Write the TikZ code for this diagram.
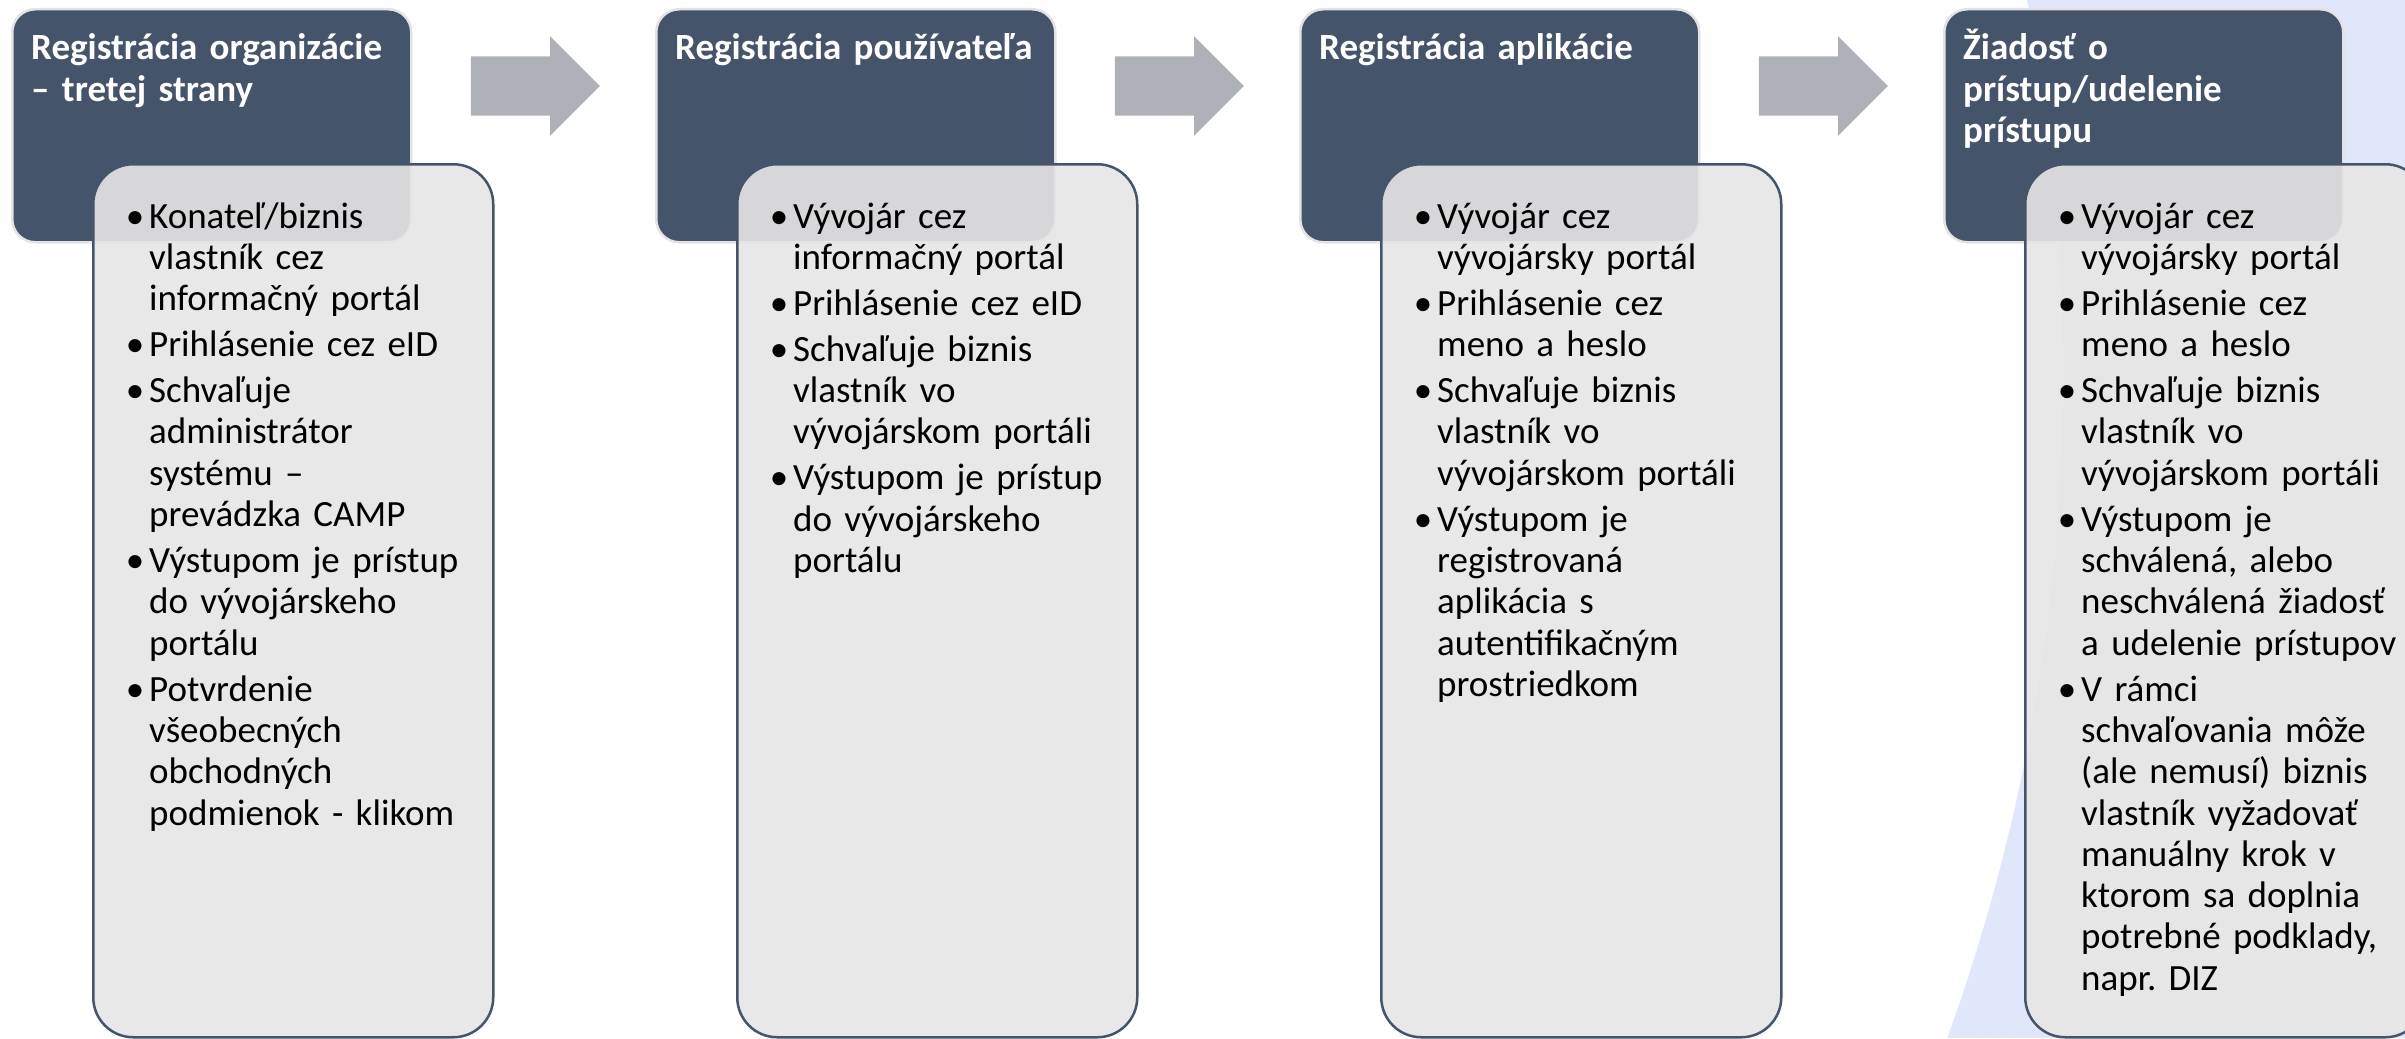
\documentclass[tikz,border=0pt]{standalone}
\usepackage{fontspec}
\setmainfont{Carlito}
\usetikzlibrary{shapes.arrows,calc}
\definecolor{hdrcol}{HTML}{44546A}
\definecolor{bodycol}{HTML}{E7E6E6}
\definecolor{arrcol}{HTML}{AEB1B8}
\definecolor{bgblue}{HTML}{E0E7FA}
\definecolor{rimcol}{HTML}{E3E3E3}
\newcommand\bitem[1]{\leavevmode\llap{•\hspace{5pt}}#1\par}
\newcommand\bodysetup{\frenchspacing\leftskip=17pt\parskip=4.7pt\lineskiplimit=-100pt\relax}
\begin{document}
\begin{tikzpicture}[x=1pt,y=-1pt,
  hdrbox/.style={draw=rimcol, line width=2.5pt, fill=hdrcol, rounded corners=23pt,
    minimum width=399pt, minimum height=233pt, anchor=north west, inner sep=0pt},
  hdrtext/.style={anchor=base west, inner sep=0pt, text width=370pt, align=left,
    text=white, font=\fontsize{37}{41.3}\selectfont\bfseries},
  bodybox/.style={draw=hdrcol, line width=2.5pt, fill=bodycol, fill opacity=0.9,
    rounded corners=40pt, minimum width=400pt, minimum height=873pt,
    anchor=north west, inner sep=0pt},
  bodytext/.style={anchor=base west, inner sep=0pt, text width=380pt, align=left,
    text=black, font=\fontsize{37}{41.3}\selectfont},
  flowarrow/.style={single arrow, fill=arrcol, draw=none, minimum height=129pt,
    text height=29.5pt, text depth=29.5pt, text width=0pt,
    single arrow head extend=20pt, inner sep=0pt, single arrow tip angle=90}
]
\useasboundingbox (0,0) rectangle (2405,1038);
% background
\fill[bgblue] (0,0) rectangle (2405,1038);
\fill[white] (118,375) circle[radius=1945pt];

% arrows
\node[flowarrow] (a1) at (520.5,86) {};
\node[flowarrow] (a2) at (1164.5,86) {};
\node[flowarrow] (a3) at (1808.5,86) {};

% headers
\node[hdrbox] (h1) at (11,8) {};
\node[hdrbox] (h2) at (655,8) {};
\node[hdrbox] (h3) at (1299,8) {};
\node[hdrbox] (h4) at (1943,8) {};

\node[hdrtext] (ht1) at (31,60) {Registrácia organizácie\newline – tretej strany};
\node[hdrtext] (ht2) at (675,60) {Registrácia používateľa};
\node[hdrtext] (ht3) at (1319,60) {Registrácia aplikácie};
\node[hdrtext] (ht4) at (1963,60) {Žiadosť o\newline prístup/udelenie\newline prístupu};

% bodies
\node[bodybox] (b1) at (92,163) {};
\node[bodybox] (b2) at (736,163) {};
\node[bodybox] (b3) at (1380,163) {};
\node[bodybox] (b4) at (2024,163) {};

\node[bodytext] (bt1) at (132,228) {\bodysetup
\bitem{Konateľ/biznis\newline vlastník cez\newline informačný portál}
\bitem{Prihlásenie cez eID}
\bitem{Schvaľuje\newline administrátor\newline systému –\newline prevádzka CAMP}
\bitem{Výstupom je prístup\newline do vývojárskeho\newline portálu}
\bitem{Potvrdenie\newline všeobecných\newline obchodných\newline podmienok - klikom}};

\node[bodytext] (bt2) at (776,228) {\bodysetup
\bitem{Vývojár cez\newline informačný portál}
\bitem{Prihlásenie cez eID}
\bitem{Schvaľuje biznis\newline vlastník vo\newline vývojárskom portáli}
\bitem{Výstupom je prístup\newline do vývojárskeho\newline portálu}};

\node[bodytext] (bt3) at (1420,228) {\bodysetup
\bitem{Vývojár cez\newline vývojársky portál}
\bitem{Prihlásenie cez\newline meno a heslo}
\bitem{Schvaľuje biznis\newline vlastník vo\newline vývojárskom portáli}
\bitem{Výstupom je\newline registrovaná\newline aplikácia s\newline autentifikačným\newline prostriedkom}};

\node[bodytext] (bt4) at (2064,228) {\bodysetup
\bitem{Vývojár cez\newline vývojársky portál}
\bitem{Prihlásenie cez\newline meno a heslo}
\bitem{Schvaľuje biznis\newline vlastník vo\newline vývojárskom portáli}
\bitem{Výstupom je\newline schválená, alebo\newline neschválená žiadosť\newline a udelenie prístupov}
\bitem{V rámci\newline schvaľovania môže\newline (ale nemusí) biznis\newline vlastník vyžadovať\newline manuálny krok v\newline ktorom sa doplnia\newline potrebné podklady,\newline napr. DIZ}};
\end{tikzpicture}
\end{document}
